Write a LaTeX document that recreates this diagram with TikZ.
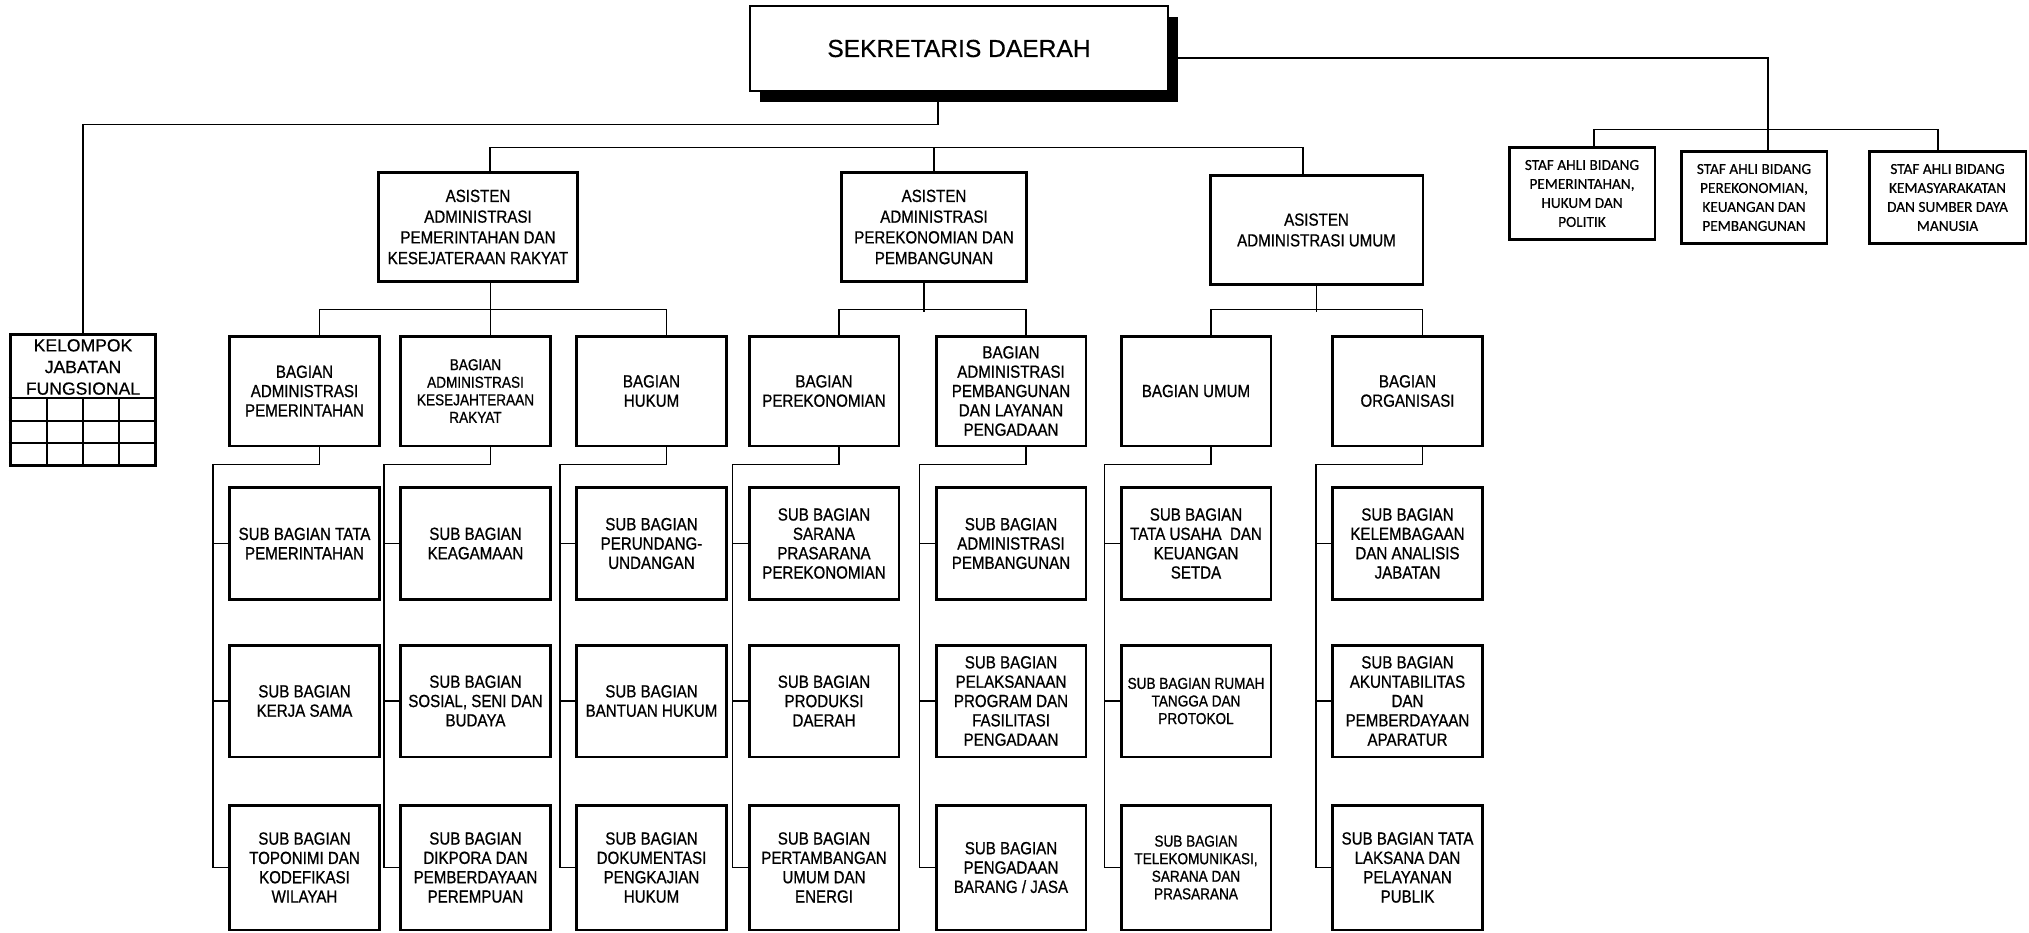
\documentclass[tikz,border=0pt]{standalone}
\usepackage{fontspec}
\setmainfont{Liberation Sans}[FakeBold=0.6]
\newfontfamily\estrecha{Liberation Sans}[FakeStretch=0.86, FakeBold=0.8]
\newfontfamily\carlito{Carlito}[FakeBold=0.4]
\usetikzlibrary{shadows}

\tikzset{
  caja/.style={draw, line width=1.7pt, fill=white, align=center, inner sep=2pt,
    font=\estrecha\fontsize{10}{11}\selectfont},
  chica/.style={font=\estrecha\fontsize{9}{10}\selectfont},
  asis/.style={caja, minimum height=2.2cm, font=\estrecha\fontsize{10}{11.8}\selectfont},
  bag/.style={caja, minimum width=3cm, minimum height=2.2cm},
  sub/.style={caja, minimum width=3cm, minimum height=2.24cm},
  subbajo/.style={sub, minimum height=2.5cm},
  staf/.style={caja, minimum height=1.86cm, font=\carlito\fontsize{8.7}{10.8}\selectfont},
  linea/.style={line width=0.7pt},
  rejilla/.style={line width=0.8pt},
}

\begin{document}
\begin{tikzpicture}[x=0.02cm, y=-0.02cm]
  % Marco de la figura
  \useasboundingbox (0,0) rectangle (2029,933);

  % Sekretaris daerah (con sombra)
  \node[draw, line width=1pt, fill=white, minimum width=8.36cm, minimum height=1.7cm,
    drop shadow={shadow xshift=0.2cm, shadow yshift=-0.22cm, fill=black, opacity=1},
    font=\fontsize{14}{16}\selectfont] (sekda) at (959,48.5) {SEKRETARIS DAERAH};

  % Staf ahli
  \node[staf, minimum width=2.92cm] (staf1) at (1582,193.5) {STAF AHLI BIDANG\\PEMERINTAHAN,\\HUKUM DAN\\POLITIK};
  \node[staf, minimum width=2.92cm] (staf2) at (1754,197.5) {STAF AHLI BIDANG\\PEREKONOMIAN,\\KEUANGAN DAN\\PEMBANGUNAN};
  \node[staf, minimum width=3.14cm] (staf3) at (1947.5,197.5) {STAF AHLI BIDANG\\KEMASYARAKATAN\\DAN SUMBER DAYA\\MANUSIA};

  % Kelompok jabatan fungsional y su rejilla
  \node[draw, line width=1.7pt, minimum width=2.92cm, minimum height=2.64cm] (kjf) at (83,400) {};
  \node[font=\fontsize{10}{12.3}\selectfont, align=center, inner sep=0pt] (kjft) at (83,367) {KELOMPOK\\JABATAN\\FUNGSIONAL};
  \foreach \yy in {398,421,443} \draw[rejilla] (kjf.west |- 0,\yy) -- (kjf.east |- 0,\yy);
  \foreach \xx in {47,83,119} \draw[rejilla] (\xx,398) -- (\xx,466);

  % Asisten
  \node[asis, minimum width=4cm] (asis1) at (478,227) {ASISTEN\\ADMINISTRASI\\PEMERINTAHAN DAN\\KESEJATERAAN RAKYAT};
  \node[asis, minimum width=3.72cm] (asis2) at (934,227) {ASISTEN\\ADMINISTRASI\\PEREKONOMIAN DAN\\PEMBANGUNAN};
  \node[asis, minimum width=4.26cm] (asis3) at (1316.5,230) {ASISTEN\\ADMINISTRASI UMUM};

  % Bagian
  \node[bag] (bag1) at (304.5,391) {BAGIAN\\ADMINISTRASI\\PEMERINTAHAN};
  \node[bag, chica] (bag2) at (475.5,391) {BAGIAN\\ADMINISTRASI\\KESEJAHTERAAN\\RAKYAT};
  \node[bag] (bag3) at (651.5,391) {BAGIAN\\HUKUM};
  \node[bag] (bag4) at (824,391) {BAGIAN\\PEREKONOMIAN};
  \node[bag] (bag5) at (1011,391) {BAGIAN\\ADMINISTRASI\\PEMBANGUNAN\\DAN LAYANAN\\PENGADAAN};
  \node[bag] (bag6) at (1196,391) {BAGIAN UMUM};
  \node[bag] (bag7) at (1407.5,391) {BAGIAN\\ORGANISASI};

  % Sub bagian, primera fila
  \node[sub] (sub11) at (304.5,543.5) {SUB BAGIAN TATA\\PEMERINTAHAN};
  \node[sub] (sub21) at (475.5,543.5) {SUB BAGIAN\\KEAGAMAAN};
  \node[sub] (sub31) at (651.5,543.5) {SUB BAGIAN\\PERUNDANG-\\UNDANGAN};
  \node[sub] (sub41) at (824,543.5) {SUB BAGIAN\\SARANA\\PRASARANA\\PEREKONOMIAN};
  \node[sub] (sub51) at (1011,543.5) {SUB BAGIAN\\ADMINISTRASI\\PEMBANGUNAN};
  \node[sub] (sub61) at (1196,543.5) {SUB BAGIAN\\TATA USAHA~ DAN\\KEUANGAN\\SETDA};
  \node[sub] (sub71) at (1407.5,543.5) {SUB BAGIAN\\KELEMBAGAAN\\DAN ANALISIS\\JABATAN};

  % Sub bagian, segunda fila
  \node[sub] (sub12) at (304.5,701) {SUB BAGIAN\\KERJA SAMA};
  \node[sub] (sub22) at (475.5,701) {SUB BAGIAN\\SOSIAL, SENI DAN\\BUDAYA};
  \node[sub] (sub32) at (651.5,701) {SUB BAGIAN\\BANTUAN HUKUM};
  \node[sub] (sub42) at (824,701) {SUB BAGIAN\\PRODUKSI\\DAERAH};
  \node[sub] (sub52) at (1011,701) {SUB BAGIAN\\PELAKSANAAN\\PROGRAM DAN\\FASILITASI\\PENGADAAN};
  \node[sub, chica] (sub62) at (1196,701) {SUB BAGIAN RUMAH\\TANGGA DAN\\PROTOKOL};
  \node[sub] (sub72) at (1407.5,701) {SUB BAGIAN\\AKUNTABILITAS\\DAN\\PEMBERDAYAAN\\APARATUR};

  % Sub bagian, tercera fila
  \node[subbajo] (sub13) at (304.5,867.5) {SUB BAGIAN\\TOPONIMI DAN\\KODEFIKASI\\WILAYAH};
  \node[subbajo] (sub23) at (475.5,867.5) {SUB BAGIAN\\DIKPORA DAN\\PEMBERDAYAAN\\PEREMPUAN};
  \node[subbajo] (sub33) at (651.5,867.5) {SUB BAGIAN\\DOKUMENTASI\\PENGKAJIAN\\HUKUM};
  \node[subbajo] (sub43) at (824,867.5) {SUB BAGIAN\\PERTAMBANGAN\\UMUM DAN\\ENERGI};
  \node[subbajo] (sub53) at (1011,867.5) {SUB BAGIAN\\PENGADAAN\\BARANG / JASA};
  \node[subbajo, chica] (sub63) at (1196,867.5) {SUB BAGIAN\\TELEKOMUNIKASI,\\SARANA DAN\\PRASARANA};
  \node[subbajo] (sub73) at (1407.5,867.5) {SUB BAGIAN TATA\\LAKSANA DAN\\PELAYANAN\\PUBLIK};

  % Lineas de sekda hacia staf ahli y kelompok
  \draw[linea] ([yshift=-0.19cm]sekda.east) -| ([xshift=0.28cm]staf2.north);
  \draw[linea] ([xshift=0.24cm]staf1.north) -- ++(0,-16) -| ([xshift=-0.19cm]staf3.north);
  \draw[linea] ([xshift=-0.42cm]sekda.south) -- ++(0,33) -| (kjf.north);

  % Linea de los asisten
  \draw[linea] ([xshift=0.24cm]asis1.north) -- ++(0,-23) -| ([xshift=-0.27cm]asis3.north);
  \draw[linea] (asis2.north) -- ++(0,-23);

  % Asisten hacia bagian
  \draw[linea] ([xshift=0.3cm]bag1.north) -- ++(0,-25) -| ([xshift=0.3cm]bag3.north);
  \draw[linea] ([xshift=0.3cm]bag2.north) -- ([xshift=0.3cm]bag2.north |- asis1.south);
  \draw[linea] ([xshift=0.3cm]bag4.north) -- ++(0,-25) -| ([xshift=0.3cm]bag5.north);
  \draw[linea] ([xshift=-0.2cm]asis2.south) -- ++(0,29);
  \draw[linea] ([xshift=0.3cm]bag6.north) -- ++(0,-25) -| ([xshift=0.3cm]bag7.north);
  \draw[linea] (asis3.south) -- ++(0,26);

  % Bagian hacia sus sub bagian
  \foreach \k in {1,...,7}{
    \draw[linea] ([xshift=0.3cm]bag\k.south) -- ++(0,17) -| ([xshift=-0.3cm]sub\k3.west) -- (sub\k3.west);
    \draw[linea] ([xshift=-0.3cm]sub\k1.west) -- (sub\k1.west);
    \draw[linea] ([xshift=-0.3cm]sub\k2.west) -- (sub\k2.west);
  }
\end{tikzpicture}
\end{document}
